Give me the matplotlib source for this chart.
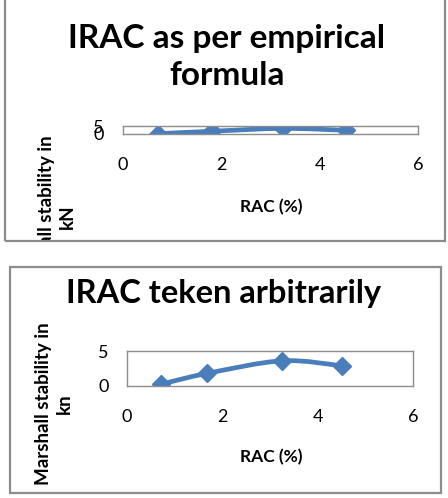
import matplotlib
matplotlib.use("Agg")
import matplotlib.pyplot as plt
from matplotlib.path import Path
from matplotlib.patches import PathPatch, Rectangle
import numpy as np

# data
rac_top = [0.71, 1.80, 3.25, 4.53]
stab_top = [0.2, 1.7, 3.5, 2.3]
rac_bot = [0.71, 1.68, 3.25, 4.50]
stab_bot = [0.25, 1.8, 3.6, 2.9]

title_top = "IRAC as per empirical\nformula"
title_bot = "IRAC teken arbitrarily"
ylab_top = "Marshall stability in\nkN"
ylab_bot = "Marshall stability in\nkn"
xlab = "RAC (%)"
xticks = [0, 2, 4, 6]
yticks = [0, 5]

plt.rcParams['font.family'] = ['Lato', 'DejaVu Sans']
blue = '#4A7EBB'
grey = '#8C8C8C'
W, H = 448, 498

fig = plt.figure(figsize=(W / 100, H / 100), dpi=100)


def fx(px):
    return px / W


def fy(py):
    return 1 - py / H


def smooth_path(x, y):
    # bezier segments like a spreadsheet "smoothed line"
    p = np.column_stack([x, y]).astype(float)
    verts = [p[0]]
    codes = [Path.MOVETO]
    n = len(p)
    for i in range(n - 1):
        p0 = p[i - 1] if i > 0 else p[i]
        p3 = p[i + 2] if i + 2 < n else p[i + 1]
        c1 = p[i] + (p[i + 1] - p0) / 6
        c2 = p[i + 1] - (p3 - p[i]) / 6
        verts += [c1, c2, p[i + 1]]
        codes += [Path.CURVE4] * 3
    return Path(verts, codes)


def panel(box, xs, ys, ypad, xpad):
    ax = fig.add_axes(box)
    ax.add_patch(PathPatch(smooth_path(xs, ys), fill=False, edgecolor=blue,
                           lw=3.4, capstyle='round', joinstyle='round'))
    ax.plot(xs, ys, ls='none', marker='D', ms=9.5, color=blue)
    ax.set_xlim(0, 6)
    ax.set_ylim(0, 5)
    ax.set_xticks(xticks)
    ax.set_yticks(yticks)
    ax.tick_params(length=0, labelsize=13, colors='black')
    ax.tick_params(axis='x', pad=xpad)
    ax.tick_params(axis='y', pad=ypad)
    for s in ax.spines.values():
        s.set_color(grey)
        s.set_linewidth(1.0)
    ax.set_facecolor('none')
    return ax


# top chart
panel([fx(123), fy(134), fx(418) - fx(123), fy(126) - fy(134)],
      rac_top, stab_top, ypad=14, xpad=16.5)
fig.text(fx(227), fy(57), title_top, ha='center', va='center',
         fontsize=24, fontweight='bold', linespacing=1.35)
fig.text(fx(271), fy(207), xlab, ha='center', va='center',
         fontsize=12.5, fontweight='bold')
clip_top = Rectangle((fx(6), fy(240)), fx(438), fy(0) - fy(240),
                     transform=fig.transFigure, visible=False)
fig.add_artist(clip_top)
t = fig.text(fx(57), fy(217), ylab_top, ha='center', va='center',
             rotation=90, fontsize=13.5, fontweight='bold',
             multialignment='center', linespacing=1.25)
t.set_clip_path(clip_top)
fig.add_artist(Rectangle((fx(5), fy(241)), fx(440), fy(-5) - fy(241),
                         transform=fig.transFigure, fill=False,
                         edgecolor=grey, lw=1.6))

# bottom chart
panel([fx(127), fy(386), fx(413) - fx(127), fy(351) - fy(386)],
      rac_bot, stab_bot, ypad=13, xpad=16.5)
fig.text(fx(224), fy(293), title_bot, ha='center', va='center',
         fontsize=23.5, fontweight='bold')
fig.text(fx(271), fy(457), xlab, ha='center', va='center',
         fontsize=12.5, fontweight='bold')
fig.text(fx(54), fy(404), ylab_bot, ha='center', va='center',
         rotation=90, fontsize=13.5, fontweight='bold',
         multialignment='center', linespacing=1.25)
fig.add_artist(Rectangle((fx(10), fy(493)), fx(431), fy(267) - fy(493),
                         transform=fig.transFigure, fill=False,
                         edgecolor=grey, lw=1.6))

fig.savefig("out.png", dpi=100)
